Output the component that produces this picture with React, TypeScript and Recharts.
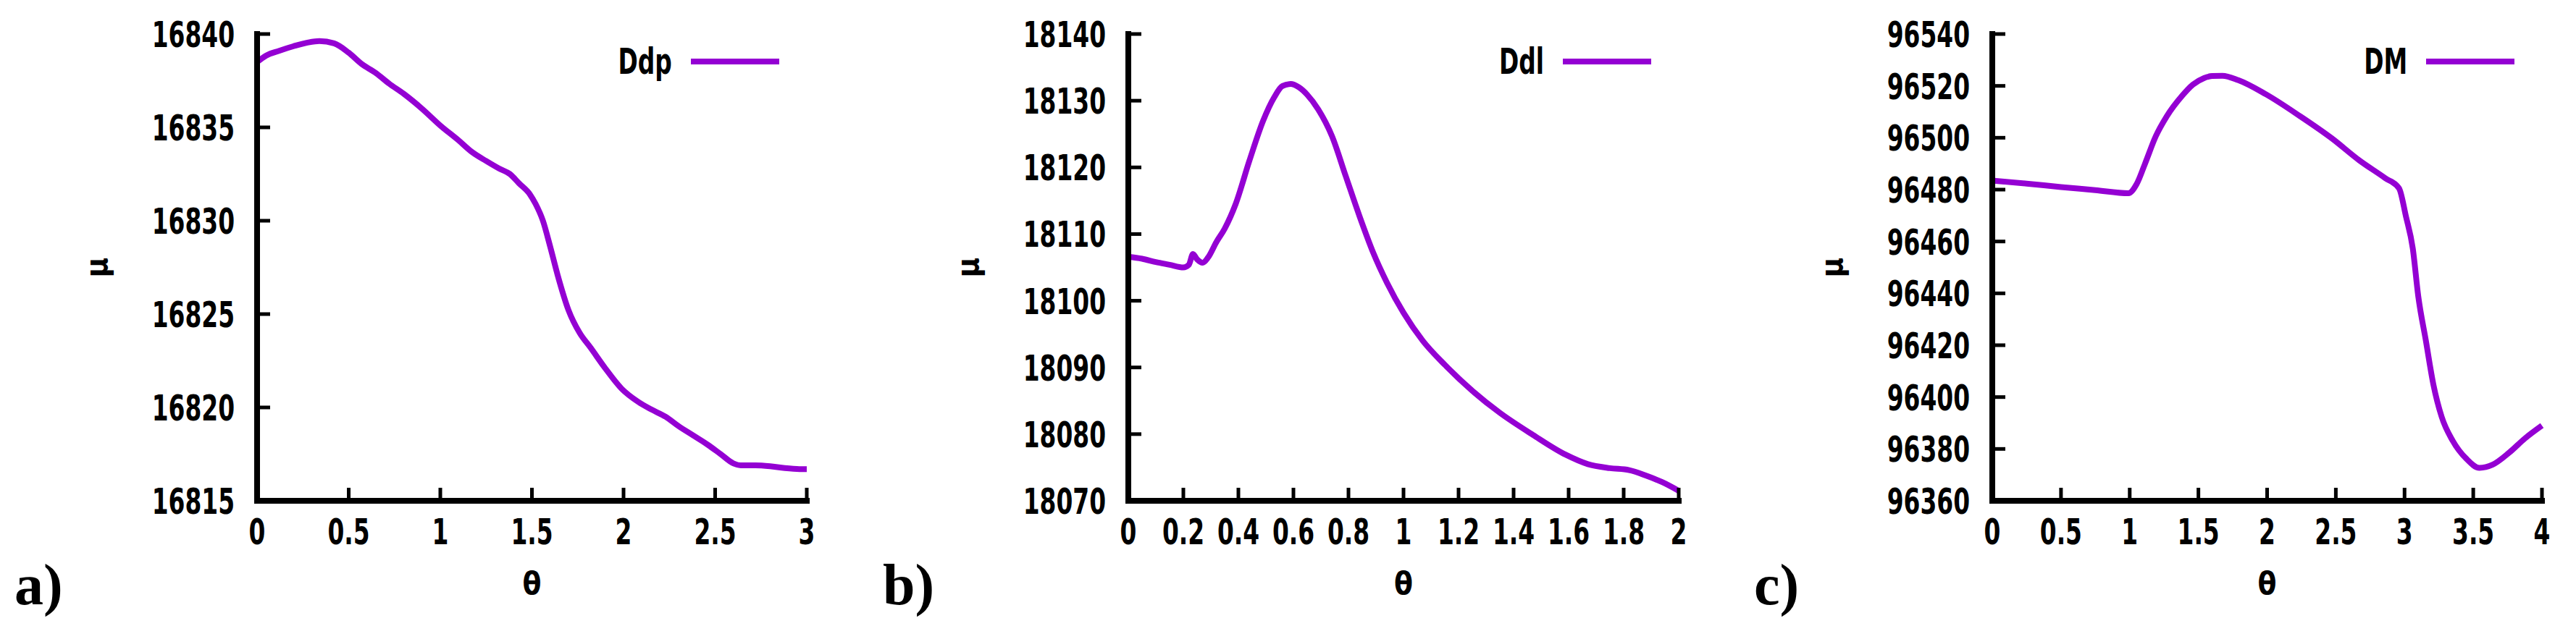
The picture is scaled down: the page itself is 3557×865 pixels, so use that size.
import React from 'react';
import { LineChart, Line, XAxis, YAxis, Legend, Label } from 'recharts';

const PURPLE = '#9400d3';
const AXIS_FONT = "'DejaVu Sans Condensed', 'DejaVu Sans', sans-serif";
const SQUEEZE = 0.73;

// a) Ddp
const ddpTheta = [0, 0.05, 0.12, 0.2, 0.28, 0.34, 0.42, 0.5, 0.57, 0.65, 0.72, 0.8, 0.9, 1.0, 1.1, 1.17, 1.25, 1.32, 1.38, 1.43, 1.49, 1.52, 1.56, 1.6, 1.64, 1.7, 1.76, 1.82, 1.9, 1.99, 2.08, 2.15, 2.23, 2.3, 2.38, 2.46, 2.53, 2.6, 2.64, 2.72, 2.8, 2.88, 2.96, 3.0];
const ddpMu = [16838.5, 16838.85, 16839.1, 16839.35, 16839.55, 16839.62, 16839.5, 16839.0, 16838.4, 16837.9, 16837.35, 16836.8, 16836.0, 16835.1, 16834.3, 16833.7, 16833.2, 16832.8, 16832.5, 16832.0, 16831.4, 16830.9, 16830.0, 16828.6, 16827.1, 16825.2, 16824.0, 16823.2, 16822.1, 16821.0, 16820.3, 16819.9, 16819.5, 16819.0, 16818.5, 16818.0, 16817.5, 16817.0, 16816.9, 16816.9, 16816.85, 16816.75, 16816.7, 16816.7];
const ddpXTicks = [0, 0.5, 1, 1.5, 2, 2.5, 3];
const ddpYTicks = [16815, 16820, 16825, 16830, 16835, 16840];

// b) Ddl
const ddlTheta = [0, 0.05, 0.1, 0.15, 0.2, 0.22, 0.235, 0.25, 0.27, 0.29, 0.32, 0.35, 0.39, 0.44, 0.49, 0.53, 0.56, 0.59, 0.62, 0.65, 0.69, 0.74, 0.79, 0.84, 0.89, 0.94, 1.0, 1.07, 1.15, 1.25, 1.35, 1.47, 1.59, 1.67, 1.75, 1.82, 1.88, 1.94, 2.0];
const ddlMu = [18106.6, 18106.3, 18105.8, 18105.4, 18105.0, 18105.4, 18107.0, 18106.2, 18105.7, 18106.5, 18108.8, 18110.8, 18114.5, 18121.0, 18127.0, 18130.5, 18132.2, 18132.5, 18132.0, 18130.9, 18128.7, 18124.7, 18118.7, 18112.7, 18107.2, 18102.7, 18098.2, 18094.0, 18090.4, 18086.5, 18083.2, 18079.9, 18076.9, 18075.5, 18074.9, 18074.6, 18073.8, 18072.8, 18071.5];
const ddlXTicks = [0, 0.2, 0.4, 0.6, 0.8, 1, 1.2, 1.4, 1.6, 1.8, 2];
const ddlYTicks = [18070, 18080, 18090, 18100, 18110, 18120, 18130, 18140];

// c) DM
const dmTheta = [0, 0.25, 0.5, 0.75, 0.99, 1.05, 1.11, 1.19, 1.27, 1.38, 1.46, 1.54, 1.6, 1.675, 1.79, 1.99, 2.24, 2.47, 2.67, 2.86, 2.96, 3.01, 3.06, 3.1, 3.155, 3.21, 3.27, 3.35, 3.45, 3.545, 3.64, 3.76, 3.875, 4.0];
const dmMu = [96483.5, 96482.3, 96481.0, 96479.8, 96478.6, 96482.1, 96489.8, 96500.6, 96508.3, 96516.1, 96520.5, 96523.0, 96523.8, 96523.9, 96522.2, 96516.8, 96508.3, 96499.8, 96491.3, 96484.4, 96480.5, 96469.7, 96457.3, 96438.8, 96421.8, 96404.8, 96392.4, 96383.2, 96376.2, 96372.7, 96373.9, 96378.5, 96384.0, 96389.0];
const dmXTicks = [0, 0.5, 1, 1.5, 2, 2.5, 3, 3.5, 4];
const dmYTicks = [96360, 96380, 96400, 96420, 96440, 96460, 96480, 96500, 96520, 96540];

const toRows = (xs: number[], ys: number[]) => xs.map((x, i) => ({ x, y: ys[i] }));

const TICK_LEN = 18;

const tickText = {
  fontFamily: AXIS_FONT,
  fontWeight: 'bold' as const,
  fontSize: 50,
  fill: '#000',
};

// gnuplot's bitmap font is narrow, so the condensed face is squeezed a bit more
function SqueezedText({ x, y, anchor, children }: any) {
  return (
    <g transform={`translate(${x},${y}) scale(${SQUEEZE},1)`}>
      <text x={0} y={0} textAnchor={anchor} style={tickText}>
        {children}
      </text>
    </g>
  );
}

function BottomTick({ x, y, payload }: any) {
  return (
    <g>
      <line x1={x} y1={y} x2={x} y2={y - TICK_LEN} stroke="#000" strokeWidth={5} />
      <SqueezedText x={x} y={y + 60} anchor="middle">
        {String(payload.value)}
      </SqueezedText>
    </g>
  );
}

function TopTick({ x, y }: any) {
  return <line x1={x} y1={y} x2={x} y2={y + TICK_LEN} stroke="#000" strokeWidth={5} />;
}

function LeftTick({ x, y, payload }: any) {
  return (
    <g>
      <line x1={x} y1={y} x2={x + TICK_LEN} y2={y} stroke="#000" strokeWidth={5} />
      <SqueezedText x={x - 31} y={y + 18} anchor="end">
        {String(payload.value)}
      </SqueezedText>
    </g>
  );
}

function RightTick({ x, y }: any) {
  return <line x1={x} y1={y} x2={x - TICK_LEN} y2={y} stroke="#000" strokeWidth={5} />;
}

function KeyBox({ name }: { name: string }) {
  return (
    <div style={{ display: 'flex', alignItems: 'center', height: 50 }}>
      <span
        style={{
          display: 'inline-block',
          fontFamily: AXIS_FONT,
          fontWeight: 'bold',
          fontSize: 50,
          lineHeight: '50px',
          color: '#000',
          transform: `scaleX(${SQUEEZE})`,
          transformOrigin: 'right center',
        }}
      >
        {name}
      </span>
      <div style={{ width: 122, height: 8, background: PURPLE, marginLeft: 26 }} />
    </div>
  );
}

interface PanelProps {
  tag: string;
  name: string;
  theta: number[];
  mu: number[];
  xDomain: [number, number];
  xTicks: number[];
  yDomain: [number, number];
  yTicks: number[];
  plotLeft: number;
  plotRight: number;
  tagLeft: number;
}

const Y_AXIS_W = 260;
const RIGHT_PAD = 20;
const frame = { stroke: '#000', strokeWidth: 8, strokeLinecap: 'square' as const };

function Panel({ tag, name, theta, mu, xDomain, xTicks, yDomain, yTicks, plotLeft, plotRight, tagLeft }: PanelProps) {
  const rows = toRows(theta, mu);
  const chartLeft = plotLeft - Y_AXIS_W;
  const width = plotRight - chartLeft + RIGHT_PAD;

  return (
    <>
      <div
        style={{
          position: 'absolute',
          left: tagLeft,
          top: 768,
          fontFamily: "'Liberation Serif', 'DejaVu Serif', serif",
          fontWeight: 'bold',
          fontSize: 80,
          lineHeight: '80px',
        }}
      >
        {tag}
      </div>
      <div style={{ position: 'absolute', left: chartLeft, top: 0 }}>
        <LineChart width={width} height={865} data={rows} margin={{ top: 47, right: RIGHT_PAD, bottom: 53, left: 0 }}>
          <XAxis
            xAxisId="bottom"
            dataKey="x"
            type="number"
            domain={xDomain}
            ticks={xTicks}
            interval={0}
            height={120}
            tickSize={0}
            tickMargin={0}
            tickLine={false}
            axisLine={frame}
            tick={<BottomTick />}
          >
            <Label
              value="θ"
              position="insideTop"
              offset={99}
              style={{ fontFamily: AXIS_FONT, fontWeight: 'bold', fontSize: 42, fill: '#000' }}
            />
          </XAxis>
          <XAxis
            xAxisId="top"
            orientation="top"
            dataKey="x"
            type="number"
            domain={xDomain}
            ticks={xTicks}
            interval={0}
            height={0}
            tickSize={0}
            tickMargin={0}
            tickLine={false}
            axisLine={frame}
            tick={<TopTick />}
          />
          <YAxis
            yAxisId="left"
            type="number"
            domain={yDomain}
            ticks={yTicks}
            interval={0}
            width={Y_AXIS_W}
            tickSize={0}
            tickMargin={0}
            tickLine={false}
            axisLine={frame}
            tick={<LeftTick />}
          >
            <Label
              value="μ"
              angle={-90}
              position="insideLeft"
              offset={38}
              style={{ textAnchor: 'middle', fontFamily: AXIS_FONT, fontWeight: 'bold', fontSize: 42, fill: '#000' }}
            />
          </YAxis>
          <YAxis
            yAxisId="right"
            orientation="right"
            type="number"
            domain={yDomain}
            ticks={yTicks}
            interval={0}
            width={0}
            tickSize={0}
            tickMargin={0}
            tickLine={false}
            axisLine={frame}
            tick={<RightTick />}
          />
          <Legend
            layout="horizontal"
            verticalAlign="middle"
            align="center"
            wrapperStyle={{ top: 60, right: RIGHT_PAD + 38, left: 'auto', width: 'auto' }}
            content={() => <KeyBox name={name} />}
          />
          <Line
            xAxisId="bottom"
            yAxisId="left"
            type="monotone"
            dataKey="y"
            name={name}
            stroke={PURPLE}
            strokeWidth={8}
            dot={false}
            isAnimationActive={false}
          />
        </LineChart>
      </div>
    </>
  );
}

export default function App() {
  return (
    <div style={{ position: 'absolute', left: 0, top: 0, width: 3557, height: 865, background: '#fff' }}>
      <Panel
        tag="a)"
        name="Ddp"
        theta={ddpTheta}
        mu={ddpMu}
        xDomain={[0, 3]}
        xTicks={ddpXTicks}
        yDomain={[16815, 16840]}
        yTicks={ddpYTicks}
        plotLeft={355}
        plotRight={1114}
        tagLeft={20}
      />
      <Panel
        tag="b)"
        name="Ddl"
        theta={ddlTheta}
        mu={ddlMu}
        xDomain={[0, 2]}
        xTicks={ddlXTicks}
        yDomain={[18070, 18140]}
        yTicks={ddlYTicks}
        plotLeft={1558}
        plotRight={2318}
        tagLeft={1219}
      />
      <Panel
        tag="c)"
        name="DM"
        theta={dmTheta}
        mu={dmMu}
        xDomain={[0, 4]}
        xTicks={dmXTicks}
        yDomain={[96360, 96540]}
        yTicks={dmYTicks}
        plotLeft={2751}
        plotRight={3510}
        tagLeft={2422}
      />
    </div>
  );
}
